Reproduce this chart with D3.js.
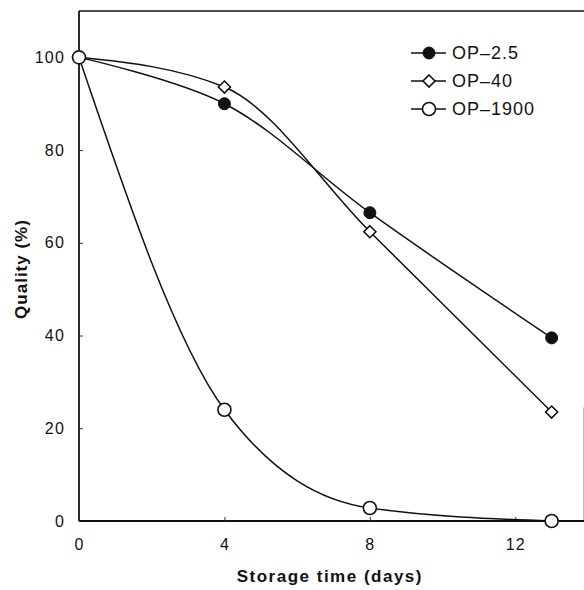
<!DOCTYPE html>
<html>
<head>
<meta charset="utf-8">
<script src="https://cdn.jsdelivr.net/npm/d3@7"></script>
<style>
  body { margin: 0; background: #fff; overflow: hidden; }
  svg { display: block; }
  text { font-family: "Liberation Sans", Arial, Helvetica, sans-serif; fill: #111; }
</style>
</head>
<body>
<script>
// storage time (days) and quality (%) for each sample
var days = [0, 4, 8, 13]
var op25 = [100, 90, 66.5, 39.5]
var op40 = [100, 93.6, 62.4, 23.5]
var op1900 = [100, 24, 2.8, 0]
var seriesNames = ['OP\u20132.5', 'OP\u201340', 'OP\u20131900']
var xTicks = [0, 4, 8, 12]
var yTicks = [0, 20, 40, 60, 80, 100]

var width = 584
var height = 590
var margin = { left: 79, top: 11, right: -4, bottom: 69 }
var innerWidth = width - margin.left - margin.right
var innerHeight = height - margin.top - margin.bottom

var svg = d3.select('body').append('svg').attr('width', width).attr('height', height)
var g = svg.append('g').attr('transform', `translate(${margin.left},${margin.top})`)

var xScale = d3.scaleLinear().domain([0, 14]).range([0, innerWidth])
var yScale = d3.scaleLinear().domain([0, 110]).range([innerHeight, 0])

// frame: left, bottom, top and the short piece on the right
g.append('line').attr('x1', 0).attr('x2', 0).attr('y1', 0).attr('y2', innerHeight).attr('stroke', '#111').attr('stroke-width', 1.8)
g.append('line').attr('x1', 0).attr('x2', innerWidth).attr('y1', innerHeight).attr('y2', innerHeight).attr('stroke', '#111').attr('stroke-width', 1.8)
g.append('line').attr('x1', 0).attr('x2', innerWidth).attr('y1', 0).attr('y2', 0).attr('stroke', '#111').attr('stroke-width', 1.5)
g.append('line').attr('x1', xScale(13.9)).attr('x2', xScale(13.9)).attr('y1', yScale(24.5)).attr('y2', innerHeight).attr('stroke', '#111').attr('stroke-width', 1.3)

// axes with small inward ticks
var xAxis = d3.axisBottom(xScale).tickValues(xTicks).tickSize(-4).tickPadding(14).tickFormat(d3.format('d'))
var yAxis = d3.axisLeft(yScale).tickValues(yTicks).tickSize(-4).tickPadding(14).tickFormat(d3.format('d'))

var xg = g.append('g').attr('transform', `translate(0,${innerHeight})`).call(xAxis)
var yg = g.append('g').call(yAxis)
;[xg, yg].forEach(a => {
    a.select('.domain').remove()
    a.selectAll('.tick line').attr('stroke', '#333').attr('stroke-width', 1)
    a.selectAll('.tick text').attr('font-size', 16).attr('letter-spacing', 1.2).attr('fill', '#111')
})
xg.selectAll('.tick text').attr('dy', '0.95em')
xg.selectAll('.tick').filter(d => d === 0).select('line').remove()
yg.selectAll('.tick').filter(d => d === 0 || d === 100).select('line').remove()

svg.append('text').attr('x', margin.left + xScale(6.9)).attr('y', 582)
    .attr('text-anchor', 'middle').attr('font-size', 17).attr('font-weight', 'bold').attr('letter-spacing', 1.5)
    .text('Storage time (days)')
svg.append('text').attr('transform', 'translate(27,269) rotate(-90)')
    .attr('text-anchor', 'middle').attr('font-size', 17).attr('font-weight', 'bold').attr('letter-spacing', 1)
    .text('Quality (%)')

var smooth = d3.line().x(d => xScale(d[0])).y(d => yScale(d[1])).curve(d3.curveMonotoneX)
var gentle = d3.line().x(d => xScale(d[0])).y(d => yScale(d[1])).curve(d3.curveCatmullRom.alpha(0.5))
var allSeries = [op25, op40, op1900]
var kinds = ['filled', 'diamond', 'open']
var lineGens = [gentle, smooth, smooth]

allSeries.forEach((vals, k) => {
    g.append('path').datum(days.map((d, i) => [d, vals[i]]))
        .attr('d', lineGens[k]).attr('fill', 'none').attr('stroke', '#111').attr('stroke-width', 1.5)
})

function marker(sel, kind) {
    if (kind === 'filled') {
        sel.append('circle').attr('r', 6).attr('fill', '#111').attr('stroke', '#111').attr('stroke-width', 1)
    } else if (kind === 'open') {
        sel.append('circle').attr('r', 6.5).attr('fill', '#fff').attr('stroke', '#111').attr('stroke-width', 1.6)
    } else {
        sel.append('path').attr('d', 'M0,-6L6,0L0,6L-6,0Z').attr('fill', '#fff').attr('stroke', '#111').attr('stroke-width', 1.6)
    }
}

allSeries.forEach((vals, k) => {
    days.forEach((d, i) => {
        var m = g.append('g').attr('transform', `translate(${xScale(d)},${yScale(vals[i])})`)
        marker(m, kinds[k])
    })
})

// legend
var legend = svg.append('g').attr('transform', 'translate(411,53)')
seriesNames.forEach((name, i) => {
    var row = legend.append('g').attr('transform', `translate(0,${i * 28})`)
    row.append('line').attr('x1', 0).attr('x2', 35).attr('stroke', '#111').attr('stroke-width', 1.5)
    var m = row.append('g').attr('transform', 'translate(18,0)')
    marker(m, kinds[i])
    row.append('text').attr('x', 41).attr('dy', '0.36em').attr('font-size', 18).attr('letter-spacing', 1)
        .text(name)
})
</script>
</body>
</html>
